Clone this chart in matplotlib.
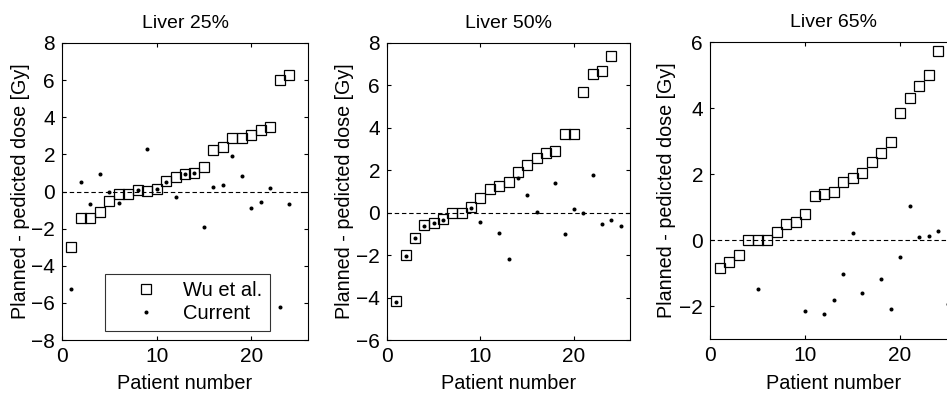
import numpy as np
import matplotlib
matplotlib.use("Agg")
import matplotlib.pyplot as plt

plt.rcParams['font.family'] = ['Liberation Sans', 'DejaVu Sans']

# ---------------- data ----------------
titles = ["Liver 25%", "Liver 50%", "Liver 65%"]
patients_wu = list(range(1, 25))
patients_cur = list(range(1, 26))
nan = float('nan')

wu_25 = [-3.0, -1.45, -1.45, -1.1, -0.5, -0.13, -0.13, 0.08, 0.05, 0.13, 0.55, 0.8,
         0.95, 1.0, 1.3, 2.25, 2.4, 2.88, 2.88, 3.02, 3.3, 3.45, 6.0, 6.3]
cur_25 = [-5.27, 0.53, -0.67, 0.93, -0.05, -0.6, nan, 0.08, 2.3, 0.13, 0.53, -0.28,
          0.93, 1.0, -1.9, 0.22, 0.37, 1.9, 0.85, -0.9, -0.58, 0.2, -6.24, -0.67, nan]

wu_50 = [-4.15, -2.0, -1.2, -0.6, -0.5, -0.3, 0.0, 0.0, 0.25, 0.68, 1.1, 1.27,
         1.45, 1.93, 2.26, 2.58, 2.82, 2.92, 3.7, 3.7, 5.67, 6.55, 6.7, 7.4]
cur_50 = [-4.2, -2.03, -1.2, -0.62, -0.5, -0.33, nan, nan, 0.22, -0.46, nan, -0.96,
          -2.18, 1.62, 0.82, 0.02, nan, 1.4, -1.0, 0.17, -0.03, 1.79, -0.53, -0.33, -0.62]

wu_65 = [-0.84, -0.66, -0.45, 0.0, 0.0, 0.0, 0.25, 0.5, 0.55, 0.79, 1.34, 1.38,
         1.46, 1.77, 1.89, 2.04, 2.37, 2.63, 2.98, 3.84, 4.29, 4.67, 5.0, 5.73]
cur_65 = [nan, nan, nan, nan, -1.47, nan, nan, nan, nan, -2.14, nan, -2.24,
          -1.82, -1.04, 0.2, -1.6, nan, -1.19, -2.1, -0.53, 1.03, 0.1, 0.12, 0.27, -1.95]

wu_series = [wu_25, wu_50, wu_65]
cur_series = [cur_25, cur_50, cur_65]
ylims = [(-8, 8), (-6, 8), (-3, 6)]
yticks = [list(range(-8, 9, 2)), list(range(-6, 9, 2)), list(range(-2, 7, 2))]
xticks = [0, 10, 20]
xlim = (0, 26)
ylabel = "Planned - pedicted dose [Gy]"
xlabel = "Patient number"
legend_labels = ["Wu et al.", "Current"]

# ---------------- layout (figure fractions) ----------------
W, H = 947, 395
fig = plt.figure(figsize=(W / 100, H / 100), dpi=100)
lefts = [62, 387, 710]
widths = [246, 243, 247]
tops = [43, 43, 42]
bottoms = [340, 340, 339]

for i in range(3):
    ax = fig.add_axes([lefts[i] / W, 1 - bottoms[i] / H,
                       widths[i] / W, (bottoms[i] - tops[i]) / H])
    ax.axhline(0, color='black', lw=0.8, ls=(0, (4, 2.5)), zorder=1)
    ax.plot(patients_wu, wu_series[i], ls='none', marker='s', ms=7.2,
            mfc='none', mec='black', mew=0.9, label=legend_labels[0], zorder=2)
    ax.plot(patients_cur, cur_series[i], ls='none', marker='o', ms=2.9,
            mfc='black', mec='black', mew=0, label=legend_labels[1], zorder=3)
    ax.set_xlim(*xlim)
    ax.set_ylim(*ylims[i])
    ax.set_xticks(xticks)
    ax.set_yticks(yticks[i])
    ax.tick_params(direction='in', length=3, width=0.8, top=True, right=True,
                   labelsize=15, pad=5)
    for sp in ax.spines.values():
        sp.set_linewidth(0.8)
    ax.set_title(titles[i], fontsize=14, pad=10.5)
    ax.set_xlabel(xlabel, fontsize=14.3, va='baseline')
    ax.xaxis.set_label_coords(0.5, -(389 - bottoms[i]) / (bottoms[i] - tops[i]))
    ax.set_ylabel(ylabel, fontsize=14.2, va='center')
    ylab_x = [21, 344, 666][i]
    ax.yaxis.set_label_coords((ylab_x - lefts[i]) / widths[i], 0.5)
    if i == 0:
        leg = ax.legend(loc='lower left', bbox_to_anchor=(0.175, 0.03),
                        fontsize=14.5, frameon=True, fancybox=False,
                        borderpad=0.38, handlelength=3.3, handletextpad=0.2,
                        labelspacing=0.2, numpoints=1, borderaxespad=0)
        leg.get_frame().set_edgecolor('black')
        leg.get_frame().set_linewidth(0.8)

fig.savefig("out.png", dpi=100)
